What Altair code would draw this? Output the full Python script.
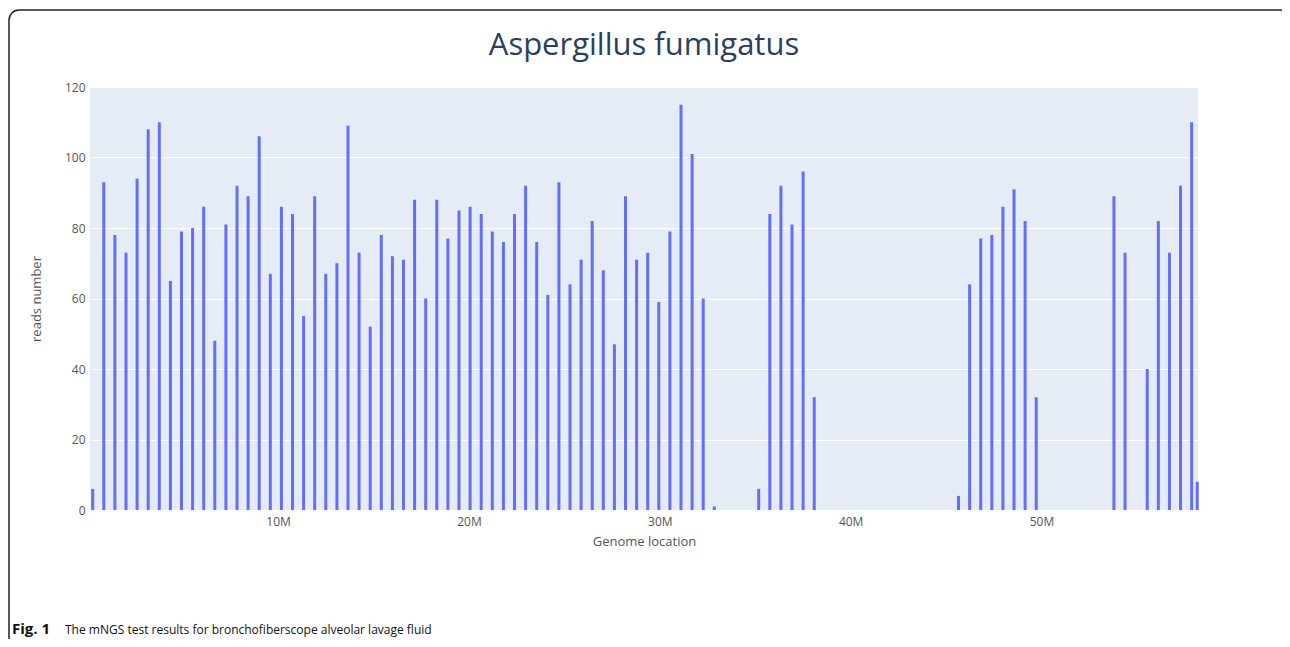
import altair as alt
import pandas as pd

# ---- data ----
title_text = "Aspergillus fumigatus"
caption_bold = "Fig. 1"
caption_text = "The mNGS test results for bronchofiberscope alveolar lavage fluid"

bin_size_m = 0.5816          # genome bin width (Mb)
first_bin_m = 0.288          # centre of the first bin (Mb)
# reads per bin, bins 0..99 (0 = no reads)
reads = [
    6, 93, 78, 73, 94, 108, 110, 65, 79, 80,
    86, 48, 81, 92, 89, 106, 67, 86, 84, 55,
    89, 67, 70, 109, 73, 52, 78, 72, 71, 88,
    60, 88, 77, 85, 86, 84, 79, 76, 84, 92,
    76, 61, 93, 64, 71, 82, 68, 47, 89, 71,
    73, 59, 79, 115, 101, 60, 1, 0, 0, 0,
    6, 84, 92, 81, 96, 32, 0, 0, 0, 0,
    0, 0, 0, 0, 0, 0, 0, 0, 4, 64,
    77, 78, 86, 91, 82, 32, 0, 0, 0, 0,
    0, 0, 89, 73, 0, 40, 82, 73, 92, 110,
]
last_bin_m = 58.16           # short final bin at the genome end
last_bin_reads = 8

x_ticks = [10, 20, 30, 40, 50]
y_ticks = [0, 20, 40, 60, 80, 100, 120]

loc = [first_bin_m + i * bin_size_m for i in range(len(reads))] + [last_bin_m]
val = reads + [last_bin_reads]
df = pd.DataFrame({"loc": loc, "reads": val})
df = df[df["reads"] > 0]

W, H = 1108, 423
PAD = {"left": 82, "top": 79, "right": 84, "bottom": 129}

bars = alt.Chart(df).mark_rule(color="#636EFA", strokeWidth=3).encode(
    x=alt.X("loc:Q",
            scale=alt.Scale(domain=[0.147, 58.2], nice=False, zero=False),
            axis=alt.Axis(values=x_ticks, labelExpr="datum.value + 'M'",
                          grid=False, ticks=False, domain=False,
                          labelPadding=6, labelFontSize=12, labelColor="#555",
                          labelFont="Open Sans",
                          title="Genome location", titleFontSize=13,
                          titleFont="Open Sans", titleFontWeight="normal",
                          titleColor="#555", titlePadding=8)),
    y=alt.Y("reads:Q",
            scale=alt.Scale(domain=[0, 120], nice=False),
            axis=alt.Axis(values=y_ticks, grid=True, gridColor="white",
                          gridWidth=1, ticks=False, domain=False,
                          labelPadding=5, labelFontSize=12, labelColor="#555",
                          labelFont="Open Sans",
                          title="reads number", titleFontSize=13,
                          titleFont="Open Sans", titleFontWeight="normal",
                          titleColor="#555", titlePadding=21)),
    y2=alt.datum(0),
)

txt_df = pd.DataFrame({"b": [caption_bold], "t": [caption_text], "h": [title_text]})

title_mark = alt.Chart(txt_df).mark_text(
    align="center", baseline="middle", fontSize=31, font="Open Sans",
    color="#2a3f5f"
).encode(x=alt.value(W / 2), y=alt.value(-41), text="h:N")

cap_bold = alt.Chart(txt_df).mark_text(
    align="left", baseline="middle", fontSize=15, fontWeight="bold",
    font="Open Sans", color="#111"
).encode(x=alt.value(-78), y=alt.value(542), text="b:N")
cap_rest = alt.Chart(txt_df).mark_text(
    align="left", baseline="middle", fontSize=12,
    font="Open Sans", color="#111"
).encode(x=alt.value(-25), y=alt.value(543), text="t:N")

frame = alt.Chart(txt_df).mark_rect(
    fill=None, fillOpacity=0, stroke="#222", strokeWidth=1.5, cornerRadius=10
).encode(x=alt.value(-81), x2=alt.value(1200), y=alt.value(-77), y2=alt.value(700))

chart = alt.layer(frame, bars, title_mark, cap_bold, cap_rest).properties(
    width=W, height=H,
    autosize=alt.AutoSizeParams(type="none"),
    padding=PAD,
    background="white",
).configure_view(fill="#E5ECF6", stroke=None)

chart.save("out.html", embed_options={"renderer": "svg", "actions": False})
